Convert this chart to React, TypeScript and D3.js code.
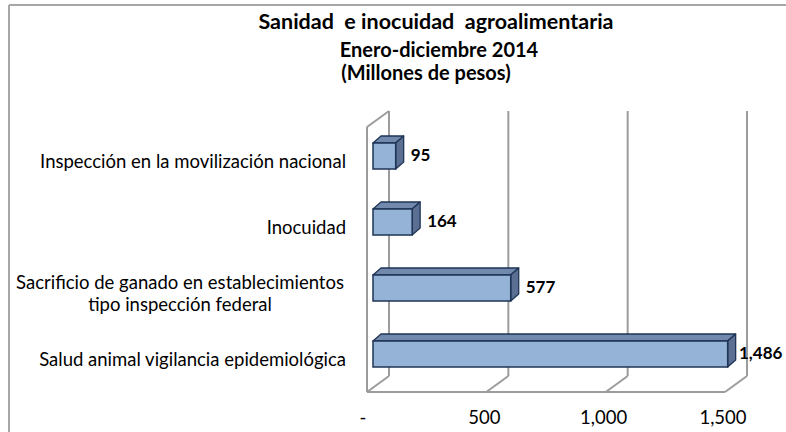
import React from "react";
import * as d3 from "d3";

const categories = [
  "Inspección en la movilización nacional",
  "Inocuidad",
  "Sacrificio de ganado en establecimientos|tipo inspección federal",
  "Salud animal vigilancia epidemiológica",
];
const values = [95, 164, 577, 1486];
const valueLabels = ["95", "164", "577", "1,486"];
const tickValues = [0, 500, 1000, 1500];
const tickLabels = ["-", "500", "1,000", "1,500"];

const W = 786;
const H = 432;
const FONT = "Lato, 'Open Sans', sans-serif";

export default function App() {
  const x = d3.scaleLinear().domain([0, 1500]).range([367, 725]);
  const y = d3
    .scaleBand<string>()
    .domain(categories)
    .range([123, 387])
    .paddingInner(40 / 66)
    .paddingOuter(20 / 66);

  const wallDx = 22, wallDy = -16;
  const floorY = 392, topY = 127;
  const barShift = 6;
  const bDx = 8, bDy = -7;
  const grid = "#9c9c9c";

  return (
    <svg width={W} height={H} style={{ position: "absolute", left: 0, top: 0, background: "#fff" }} fontFamily={FONT}>
      {/* frame */}
      <line x1={9} y1={5} x2={W} y2={5} stroke="#a6a6a6" strokeWidth={2} />
      <line x1={9} y1={5} x2={9} y2={H} stroke="#a6a6a6" strokeWidth={2} />

      {/* title */}
      <text x={436} y={29} textAnchor="middle" fontSize={21.5} fontWeight="bold" fill="#000" style={{ whiteSpace: "pre" }}>
        {"Sanidad  e inocuidad  agroalimentaria"}
      </text>
      <text x={439} y={57} textAnchor="middle" fontSize={20} fontWeight="bold" fill="#000">
        Enero-diciembre 2014
      </text>
      <text x={426} y={80} textAnchor="middle" fontSize={20} fontWeight="bold" fill="#000">
        (Millones de pesos)
      </text>

      {/* back wall gridlines and floor lines */}
      {tickValues.map((v) => (
        <g key={v}>
          <line x1={x(v) + wallDx} y1={topY + wallDy} x2={x(v) + wallDx} y2={floorY + wallDy} stroke={grid} strokeWidth={2} />
          <line x1={x(v)} y1={floorY} x2={x(v) + wallDx} y2={floorY + wallDy} stroke={grid} strokeWidth={2} />
        </g>
      ))}
      {/* left wall */}
      <line x1={x(0)} y1={topY} x2={x(0)} y2={floorY} stroke={grid} strokeWidth={2} />
      <line x1={x(0)} y1={topY} x2={x(0) + wallDx} y2={topY + wallDy} stroke={grid} strokeWidth={2} />
      {/* floor front edge */}
      <line x1={x(0)} y1={floorY} x2={x(1500)} y2={floorY} stroke={grid} strokeWidth={2} />

      {/* tick labels */}
      {tickValues.map((v, i) => (
        <text key={v} x={i === 0 ? x(v) - 4 : x(v) - 2} y={424} textAnchor="middle" fontSize={18.5} fill="#000">
          {tickLabels[i]}
        </text>
      ))}

      {/* bars */}
      {categories.map((c, i) => {
        const y0 = y(c)!;
        const h = y.bandwidth();
        const x0 = x(0) + barShift;
        const x1 = x(values[i]) + barShift;
        const top = `M${x0},${y0} L${x0 + bDx},${y0 + bDy} L${x1 + bDx},${y0 + bDy} L${x1},${y0} Z`;
        const side = `M${x1},${y0} L${x1 + bDx},${y0 + bDy} L${x1 + bDx},${y0 + h + bDy} L${x1},${y0 + h} Z`;
        const lx = Math.min(x1 + bDx + 7, 739);
        return (
          <g key={c}>
            <path d={top} fill="#7189ad" stroke="#1f3556" strokeWidth={1.3} strokeLinejoin="round" />
            <path d={side} fill="#5a6f92" stroke="#1f3556" strokeWidth={1.3} strokeLinejoin="round" />
            <rect x={x0} y={y0} width={x1 - x0} height={h} fill="#95b3d7" stroke="#1f3556" strokeWidth={1.5} />
            <text x={lx} y={y0 + h / 2 + 5} fontSize={17} fontWeight="bold" fill="#000">
              {valueLabels[i]}
            </text>
          </g>
        );
      })}

      {/* category labels */}
      {categories.map((c) => {
        const cy = y(c)! + y.bandwidth() / 2 + 6;
        const lines = c.split("|");
        if (lines.length === 1) {
          return (
            <text key={c} x={346} y={cy + 6} textAnchor="end" fontSize={18.5} fill="#000">
              {c}
            </text>
          );
        }
        return (
          <text key={c} x={180} textAnchor="middle" fontSize={18.5} fill="#000">
            {lines.map((l, j) => (
              <tspan key={j} x={180} y={cy + 6 - 11 + j * 22}>
                {l}
              </tspan>
            ))}
          </text>
        );
      })}
    </svg>
  );
}
